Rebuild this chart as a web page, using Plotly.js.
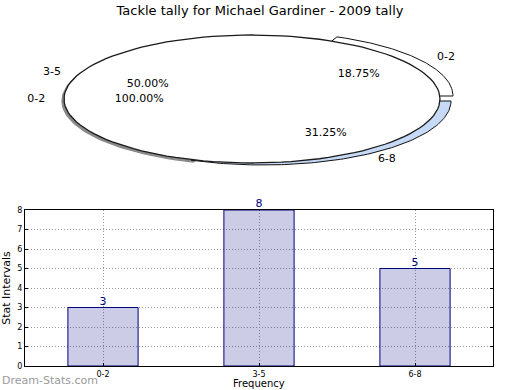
<!DOCTYPE html>
<html>
<head>
<meta charset="utf-8">
<script src="https://cdn.plot.ly/plotly-3.0.1.min.js"></script>
<style>html,body{margin:0;padding:0;background:#fff;}#chart{width:520px;height:390px;}</style>
</head>
<body>
<div id="chart"></div>
<script>
// ---- data ----
const chartTitle = "Tackle tally for Michael Gardiner - 2009 tally";
const categories = ["0-2", "3-5", "6-8"];
const counts = [3, 8, 5];
// extra single-slice pie overlay visible in the reference
const overlayLabels = ["0-2"];
const overlayValues = [1];
const yTitle = "Stat Intervals";
const xTitle = "Frequency";
const watermark = "Dream-Stats.com";

// ---- pie geometry (style) ----
const cx = 252, cy = 99, rx = 188, ry = 64;
const explodeDX = [13, 0, 11];
const explodeDY = [-3, 0, 2];
const sliceFill = ["#ffffff", "#ffffff", "#c6d9f7"];
const FONT = "DejaVu Sans, sans-serif";

function sectorPts(a0, a1, ox, oy, full) {
  const xs = [], ys = [];
  if (!full) { xs.push(cx + ox); ys.push(cy + oy); }
  const n = 120;
  for (let i = 0; i <= n; i++) {
    const a = (a0 + (a1 - a0) * i / n) * Math.PI / 180;
    xs.push(cx + ox + rx * Math.cos(a));
    ys.push(cy + oy - ry * Math.sin(a));
  }
  xs.push(xs[0]); ys.push(ys[0]);
  return {xs, ys};
}

const traces = [];
const total = counts.reduce((a, b) => a + b, 0);
let start = 0;
const slices = counts.map((v, i) => {
  const span = v / total * 360;
  const s = {a0: start, a1: start + span, mid: start + span / 2, frac: v / total, label: categories[i], i};
  start += span;
  return s;
});

// shadow under the big slice
{
  const s = slices[1];
  const p = sectorPts(s.a0 - 5, s.a1 + 5, -2, 2, true);
  traces.push({type: "scatter", mode: "lines", x: p.xs, y: p.ys, xaxis: "x2", yaxis: "y2",
    fill: "toself", fillcolor: "#8a8a8a", line: {color: "#888", width: 1.2}, hoverinfo: "skip"});
}
// exploded slices
slices.forEach(s => {
  if (explodeDX[s.i] === 0 && explodeDY[s.i] === 0) return;
  const p = sectorPts(s.a0, s.a1, explodeDX[s.i], explodeDY[s.i], false);
  traces.push({type: "scatter", mode: "lines", x: p.xs, y: p.ys, xaxis: "x2", yaxis: "y2",
    fill: "toself", fillcolor: sliceFill[s.i], line: {color: "#111", width: 1}, hoverinfo: "skip"});
});
// top face
{
  const p = sectorPts(0, 360, 0, 0, true);
  traces.push({type: "scatter", mode: "lines", x: p.xs, y: p.ys, xaxis: "x2", yaxis: "y2",
    fill: "toself", fillcolor: "#ffffff", line: {color: "#1a1a1a", width: 1.3}, hoverinfo: "skip"});
}

// labels
function addLabels(sl, dxArr, dyArr) {
  sl.forEach(s => {
    const a = s.mid * Math.PI / 180;
    const ox = dxArr ? dxArr[s.i] : 0, oy = dyArr ? dyArr[s.i] : 0;
    const lx = cx + ox + 1.1 * rx * Math.cos(a), ly = cy + oy - 1.1 * ry * Math.sin(a);
    const px = cx + ox + 0.6 * rx * Math.cos(a), py = cy + oy - 0.6 * ry * Math.sin(a);
    traces.push({type: "scatter", mode: "text", x: [lx], y: [ly], text: [s.label], xaxis: "x2", yaxis: "y2",
      textposition: Math.cos(a) >= 0 ? "middle right" : "middle left",
      textfont: {family: FONT, size: 11, color: "#000"}, hoverinfo: "skip"});
    traces.push({type: "scatter", mode: "text", x: [px], y: [py], text: [(s.frac * 100).toFixed(2) + "%"], xaxis: "x2", yaxis: "y2",
      textposition: "middle center",
      textfont: {family: FONT, size: 11, color: "#000"}, hoverinfo: "skip"});
  });
}
addLabels(slices, explodeDX, explodeDY);
{
  const ot = overlayValues.reduce((a, b) => a + b, 0);
  let st = 0;
  const os = overlayValues.map((v, i) => {
    const span = v / ot * 360;
    const s = {mid: st + span / 2, frac: v / ot, label: overlayLabels[i], i};
    st += span; return s;
  });
  addLabels(os, null, null);
}

// bar chart
traces.push({type: "bar", x: categories, y: counts, xaxis: "x", yaxis: "y",
  width: 0.45,
  marker: {color: "rgba(0,0,128,0.2)", line: {color: "#000080", width: 1}}, hoverinfo: "skip"});
traces.push({type: "scatter", mode: "text", x: categories, y: counts, xaxis: "x", yaxis: "y",
  text: counts.map(String), textposition: "top center", cliponaxis: false,
  textfont: {family: FONT, size: 11, color: "#000080"}, hoverinfo: "skip"});

const gridDash = "1px,2px";
const layout = {
  width: 520, height: 390, showlegend: false,
  margin: {l: 0, r: 0, t: 0, b: 0},
  paper_bgcolor: "#fff", plot_bgcolor: "#fff",
  font: {family: FONT, color: "#000"},
  title: {text: chartTitle, font: {family: FONT, size: 13, color: "#000"}, x: 0.5, xanchor: "center", y: 0.972, yanchor: "middle"},
  xaxis2: {domain: [0, 1], range: [0, 520], visible: false, anchor: "y2", fixedrange: true},
  yaxis2: {domain: [0.5, 1], range: [195, 0], visible: false, anchor: "x2", fixedrange: true},
  xaxis: {domain: [25/520, 493/520], anchor: "y", type: "category", range: [-0.5, 2.5],
    showline: true, linecolor: "#000", linewidth: 1, mirror: true,
    showgrid: true, gridcolor: "#999", griddash: gridDash, gridwidth: 1,
    ticks: "inside", ticklen: 3, tickcolor: "#000",
    tickfont: {family: FONT, size: 8, color: "#000"}},
  yaxis: {domain: [1 - 366/390, 1 - 210/390], anchor: "x", range: [0, 8], dtick: 1,
    showline: true, linecolor: "#000", linewidth: 1, mirror: "ticks",
    showgrid: true, gridcolor: "#999", griddash: gridDash, gridwidth: 1,
    ticks: "inside", ticklen: 3, tickcolor: "#000", zeroline: false,
    tickfont: {family: FONT, size: 8, color: "#000"},
    title: {text: yTitle, font: {family: FONT, size: 11, color: "#000"}, standoff: 4}},
  annotations: [
    {text: watermark, xref: "paper", yref: "paper", x: 0, y: 1 - 380/390,
      xanchor: "left", yanchor: "middle", showarrow: false,
      font: {family: "DejaVu Sans, sans-serif", size: 11, color: "#9a9a9a"}},
    {text: xTitle, xref: "x", yref: "paper", x: categories[1], y: 0,
      xanchor: "center", yanchor: "bottom", showarrow: false, borderpad: 0,
      font: {family: FONT, size: 10, color: "#000"}}
  ]
};

Plotly.newPlot("chart", traces, layout, {staticPlot: true, displayModeBar: false});
</script>
</body>
</html>
